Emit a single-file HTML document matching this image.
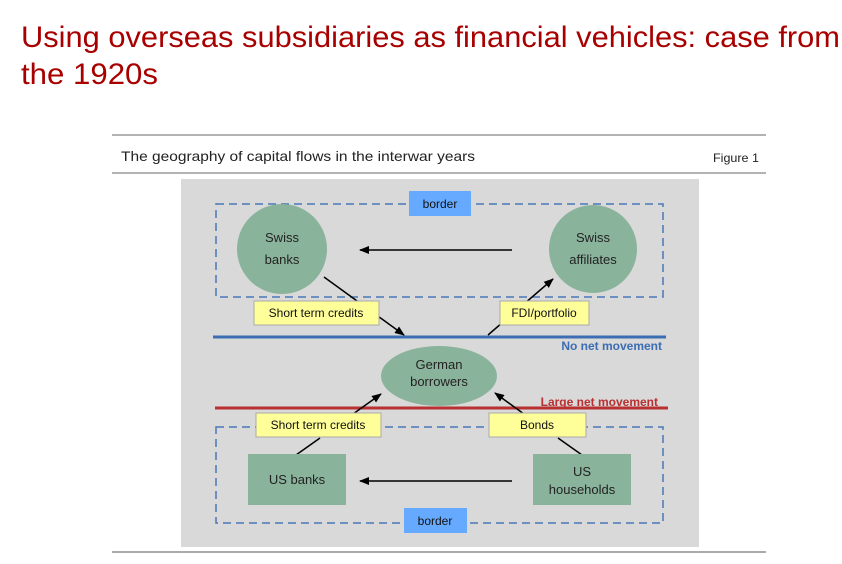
<!DOCTYPE html>
<html><head><meta charset="utf-8"><style>
html,body{margin:0;padding:0;background:#fff;}
svg{display:block;font-family:"Liberation Sans",sans-serif;}
</style></head><body>
<svg width="842" height="564" viewBox="0 0 842 564" xmlns="http://www.w3.org/2000/svg">
<defs>
<marker id="ah" markerWidth="10" markerHeight="8" refX="9" refY="4" orient="auto" markerUnits="userSpaceOnUse">
<path d="M0,0 L10,4 L0,8 Z" fill="#000"/></marker>
</defs>
<text x="21" y="47" font-size="30" fill="#a80000" textLength="819" lengthAdjust="spacingAndGlyphs">Using overseas subsidiaries as financial vehicles: case from</text>
<text x="21" y="84" font-size="30" fill="#a80000" textLength="137" lengthAdjust="spacingAndGlyphs">the 1920s</text>
<line x1="112" y1="135" x2="766" y2="135" stroke="#999" stroke-width="1.5"/>
<line x1="112" y1="173" x2="766" y2="173" stroke="#999" stroke-width="1.5"/>
<line x1="112" y1="552" x2="766" y2="552" stroke="#aaa" stroke-width="2"/>
<text x="121" y="161" font-size="14" fill="#222" textLength="354" lengthAdjust="spacingAndGlyphs">The geography of capital flows in the interwar years</text>
<text x="713" y="162" font-size="12" fill="#222" textLength="46" lengthAdjust="spacingAndGlyphs">Figure 1</text>
<rect x="181" y="179" width="518" height="368" fill="#d9d9d9"/>
<rect x="216" y="204" width="447" height="93" fill="none" stroke="#4a78b8" stroke-width="1.5" stroke-dasharray="8,5"/>
<rect x="216" y="427" width="447" height="96" fill="none" stroke="#4a78b8" stroke-width="1.5" stroke-dasharray="8,5"/>
<rect x="409" y="191" width="62" height="25" fill="#66aaff"/>
<text x="440" y="208" font-size="12" text-anchor="middle" fill="#111">border</text>
<rect x="404" y="508" width="63" height="25" fill="#66aaff"/>
<text x="435" y="525" font-size="12" text-anchor="middle" fill="#111">border</text>
<circle cx="282" cy="249" r="45" fill="#8ab39b"/>
<text x="282" y="242" font-size="13" text-anchor="middle" fill="#222">Swiss</text>
<text x="282" y="264" font-size="13" text-anchor="middle" fill="#222">banks</text>
<circle cx="593" cy="249" r="44" fill="#8ab39b"/>
<text x="593" y="242" font-size="13" text-anchor="middle" fill="#222">Swiss</text>
<text x="593" y="264" font-size="13" text-anchor="middle" fill="#222">affiliates</text>
<line x1="512" y1="250" x2="360" y2="250" stroke="#000" stroke-width="1.5" marker-end="url(#ah)"/>
<line x1="324" y1="277" x2="404" y2="335" stroke="#000" stroke-width="1.5" marker-end="url(#ah)"/>
<line x1="488" y1="335" x2="553" y2="279" stroke="#000" stroke-width="1.5" marker-end="url(#ah)"/>
<rect x="254" y="301" width="125" height="24" fill="#ffff99" stroke="#aaa"/>
<text x="316" y="317" font-size="12" text-anchor="middle" fill="#111">Short term credits</text>
<rect x="500" y="301" width="89" height="24" fill="#ffff99" stroke="#aaa"/>
<text x="544" y="317" font-size="12" text-anchor="middle" fill="#111">FDI/portfolio</text>
<line x1="213" y1="337" x2="666" y2="337" stroke="#3b6db3" stroke-width="3"/>
<text x="662" y="350" font-size="12" font-weight="bold" text-anchor="end" fill="#3b6db3">No net movement</text>
<ellipse cx="439" cy="376" rx="58" ry="30" fill="#8ab39b"/>
<text x="439" y="369" font-size="13" text-anchor="middle" fill="#222">German</text>
<text x="439" y="386" font-size="13" text-anchor="middle" fill="#222">borrowers</text>
<line x1="215" y1="408" x2="668" y2="408" stroke="#b83030" stroke-width="3"/>
<text x="658" y="406" font-size="12" font-weight="bold" text-anchor="end" fill="#b83030">Large net movement</text>
<line x1="353" y1="414" x2="381" y2="394" stroke="#000" stroke-width="1.5" marker-end="url(#ah)"/>
<line x1="524" y1="414" x2="495" y2="393" stroke="#000" stroke-width="1.5" marker-end="url(#ah)"/>
<line x1="320" y1="438" x2="296" y2="455" stroke="#000" stroke-width="1.5"/>
<line x1="558" y1="438" x2="582" y2="455" stroke="#000" stroke-width="1.5"/>
<rect x="256" y="413" width="125" height="24" fill="#ffff99" stroke="#aaa"/>
<text x="318" y="429" font-size="12" text-anchor="middle" fill="#111">Short term credits</text>
<rect x="489" y="413" width="97" height="24" fill="#ffff99" stroke="#aaa"/>
<text x="537" y="429" font-size="12" text-anchor="middle" fill="#111">Bonds</text>
<rect x="248" y="454" width="98" height="51" fill="#8ab39b"/>
<text x="297" y="484" font-size="13" text-anchor="middle" fill="#222">US banks</text>
<rect x="533" y="454" width="98" height="51" fill="#8ab39b"/>
<text x="582" y="476" font-size="13" text-anchor="middle" fill="#222">US</text>
<text x="582" y="494" font-size="13" text-anchor="middle" fill="#222">households</text>
<line x1="512" y1="481" x2="360" y2="481" stroke="#000" stroke-width="1.5" marker-end="url(#ah)"/>
</svg>
</body></html>
